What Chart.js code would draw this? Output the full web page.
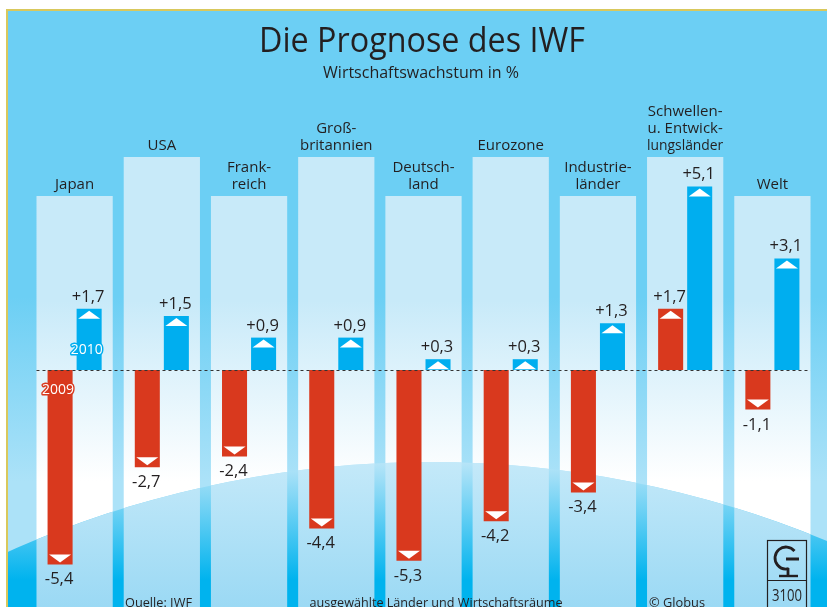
<!DOCTYPE html>
<html>
<head>
<meta charset="utf-8">
<script src="https://cdn.jsdelivr.net/npm/chart.js@4/dist/chart.umd.min.js"></script>
<style>
  html, body { margin:0; padding:0; background:#fff; }
  #chart { display:block; }
</style>
</head>
<body>
<canvas id="chart" width="827" height="607"></canvas>
<script>
// Die Prognose des IWF — Wirtschaftswachstum in %
const categories = [
  ['Japan'], ['USA'], ['Frank-', 'reich'], ['Groß-', 'britannien'], ['Deutsch-', 'land'],
  ['Eurozone'], ['Industrie-', 'länder'], ['Schwellen-', 'u. Entwick-', 'lungsländer'], ['Welt']
];
const seriesNames = ['2009', '2010'];
const growth2009 = [-5.4, -2.7, -2.4, -4.4, -5.3, -4.2, -3.4, 1.7, -1.1];
const growth2010 = [1.7, 1.5, 0.9, 0.9, 0.3, 0.3, 1.3, 5.1, 3.1];

const RED = '#d9391e';
const BLUE = '#00aeef';
const INK = '#231f20';
const FONT = '"Open Sans", "Noto Sans", sans-serif';

const fmtVal = (v) => (v > 0 ? '+' : '') + v.toFixed(1).replace('.', ',');

// panel geometry helpers (decoration only)
const panelTop = (i) => (i % 2 ? 157 : 196);
const GLOBE = { cx: 430, cy: 1498, r: 1036 };

function panels(chart, fn){
  const xs = chart.scales.x;
  const step = xs.getPixelForValue(1) - xs.getPixelForValue(0);
  const hw = step * 0.437;
  categories.forEach((_, i) => {
    const cx = xs.getPixelForValue(i);
    fn(i, cx - hw, cx + hw, cx);
  });
}

const backdrop = {
  id: 'backdrop',
  beforeDraw(chart){
    const { ctx, width, height } = chart;
    ctx.save();
    ctx.fillStyle = '#fff';
    ctx.fillRect(0, 0, width, height);

    // sky
    const sky = ctx.createLinearGradient(0, 11, 0, height);
    sky.addColorStop(0, '#6ccff4');
    sky.addColorStop(0.48, '#6ccff4');
    sky.addColorStop(0.79, '#ace2f8');
    sky.addColorStop(1, '#ace2f8');
    ctx.fillStyle = sky;
    ctx.fillRect(8, 11, width - 8, height - 11);

    // light columns
    const col = ctx.createLinearGradient(0, 157, 0, 607);
    col.addColorStop(0, '#c8eaf9');
    col.addColorStop(0.32, '#c8eaf9');
    col.addColorStop(0.72, '#ffffff');
    col.addColorStop(1, '#ffffff');
    panels(chart, (i, l, r) => {
      ctx.fillStyle = col;
      ctx.fillRect(l, panelTop(i), r - l, height - panelTop(i));
    });

    // globe
    ctx.beginPath();
    ctx.arc(GLOBE.cx, GLOBE.cy, GLOBE.r, 0, Math.PI * 2);
    ctx.clip();
    const sea = ctx.createLinearGradient(0, 462, 0, 580);
    sea.addColorStop(0, '#b8e5f8');
    sea.addColorStop(1, '#00b3ee');
    ctx.fillStyle = sea;
    ctx.fillRect(8, 440, width - 8, height - 440);
    const low = ctx.createLinearGradient(0, 462, 0, 607);
    low.addColorStop(0, '#c4e9f9');
    low.addColorStop(1, '#9bd9f4');
    panels(chart, (i, l, r) => {
      ctx.fillStyle = low;
      ctx.fillRect(l, 440, r - l, height - 440);
    });
    ctx.restore();

    // frame
    ctx.save();
    ctx.strokeStyle = '#d9c85c';
    ctx.lineWidth = 2;
    ctx.beginPath();
    ctx.moveTo(7, height);
    ctx.lineTo(7, 10);
    ctx.lineTo(width, 10);
    ctx.stroke();
    ctx.restore();
  }
};

const overlay = {
  id: 'overlay',
  afterDatasetsDraw(chart){
    const { ctx } = chart;
    const zeroY = chart.scales.y.getPixelForValue(0);
    ctx.save();

    // zero line
    let first, last;
    panels(chart, (i, l, r) => { if (i === 0) first = l; last = r; });
    ctx.strokeStyle = '#333';
    ctx.lineWidth = 1;
    ctx.setLineDash([3, 3]);
    ctx.beginPath();
    ctx.moveTo(first, Math.round(zeroY) + 0.5);
    ctx.lineTo(last, Math.round(zeroY) + 0.5);
    ctx.stroke();
    ctx.setLineDash([]);

    // triangles + values
    ctx.font = '16.5px ' + FONT;
    ctx.textAlign = 'center';
    chart.data.datasets.forEach((ds, di) => {
      chart.getDatasetMeta(di).data.forEach((bar, i) => {
        const v = ds.data[i];
        const up = v > 0;
        ctx.fillStyle = '#fff';
        ctx.beginPath();
        if (up) {
          ctx.moveTo(bar.x, bar.y + 2);
          ctx.lineTo(bar.x + 11, bar.y + 10);
          ctx.lineTo(bar.x - 11, bar.y + 10);
        } else {
          ctx.moveTo(bar.x, bar.y - 2);
          ctx.lineTo(bar.x + 11, bar.y - 10);
          ctx.lineTo(bar.x - 11, bar.y - 10);
        }
        ctx.closePath();
        ctx.fill();
        ctx.fillStyle = INK;
        ctx.fillText(fmtVal(v), bar.x - 1, up ? bar.y - 7 : bar.y + 20);
      });
    });

    // year tags in the Japan bars
    const r0 = chart.getDatasetMeta(0).data[0];
    const b0 = chart.getDatasetMeta(1).data[0];
    ctx.font = '15px ' + FONT;
    ctx.lineJoin = 'round';
    ctx.lineWidth = 3;
    ctx.textBaseline = 'middle';
    ctx.textAlign = 'right';
    ctx.strokeStyle = BLUE;
    ctx.strokeText(seriesNames[1], b0.x + b0.width / 2 + 1, zeroY - 20, 32);
    ctx.fillStyle = '#fff';
    ctx.fillText(seriesNames[1], b0.x + b0.width / 2 + 1, zeroY - 20, 32);
    ctx.textAlign = 'center';
    ctx.strokeStyle = RED;
    ctx.strokeText(seriesNames[0], r0.x - 2, zeroY + 20, 32);
    ctx.fillText(seriesNames[0], r0.x - 2, zeroY + 20, 32);
    ctx.restore();
  },
  afterDraw(chart){
    const { ctx } = chart;
    ctx.save();
    ctx.fillStyle = INK;
    ctx.textAlign = 'center';
    ctx.textBaseline = 'alphabetic';

    ctx.font = '34px ' + FONT;
    ctx.fillText('Die Prognose des IWF', 422, 52, 326);
    ctx.font = '16px ' + FONT;
    ctx.fillText('Wirtschaftswachstum in %', 421, 78, 201);

    // category labels above the columns
    ctx.font = '15px ' + FONT;
    panels(chart, (i, l, r, cx) => {
      const lines = categories[i];
      const lastY = panelTop(i) - 7;
      lines.forEach((t, k) => {
        ctx.fillText(t, cx, lastY - (lines.length - 1 - k) * 17, r - l);
      });
    });

    // footer
    ctx.font = '13.5px ' + FONT;
    ctx.textAlign = 'left';
    ctx.fillText('Quelle: IWF', 125, 607, 67);
    ctx.textAlign = 'center';
    ctx.fillText('ausgewählte Länder und Wirtschaftsräume', 436, 607, 253);
    ctx.textAlign = 'left';
    ctx.fillText('© Globus', 649, 607, 56);

    // Globus logo
    ctx.strokeStyle = INK;
    ctx.lineWidth = 1.2;
    ctx.strokeRect(767.5, 540.5, 39, 70);
    ctx.beginPath();
    ctx.moveTo(767.5, 580.5);
    ctx.lineTo(806.5, 580.5);
    ctx.stroke();
    ctx.lineWidth = 2.8;
    ctx.beginPath();
    ctx.arc(786, 558, 11, -0.22 * Math.PI, 0.42 * Math.PI, true);
    ctx.stroke();
    ctx.beginPath();
    ctx.moveTo(786, 559);
    ctx.lineTo(799, 559);
    ctx.moveTo(788, 568);
    ctx.lineTo(788, 575);
    ctx.stroke();
    ctx.lineWidth = 2.4;
    ctx.beginPath();
    ctx.moveTo(779, 576);
    ctx.lineTo(798, 576);
    ctx.stroke();
    ctx.font = '16px ' + FONT;
    ctx.textAlign = 'center';
    ctx.fillText('3100', 787, 601, 30);
    ctx.restore();
  }
};

new Chart(document.getElementById('chart'), {
  type: 'bar',
  data: {
    labels: categories,
    datasets: [
      { label: seriesNames[0], data: growth2009, backgroundColor: RED, borderWidth: 0 },
      { label: seriesNames[1], data: growth2010, backgroundColor: BLUE, borderWidth: 0 }
    ]
  },
  options: {
    responsive: false,
    animation: false,
    devicePixelRatio: 1,
    layout: { padding: { top: 172, bottom: 21, left: 31, right: 11 } },
    categoryPercentage: 0.666,
    barPercentage: 0.862,
    plugins: { legend: { display: false }, tooltip: { enabled: false } },
    scales: {
      x: { display: false, grid: { display: false } },
      y: { display: false, min: -6, max: 5.5, grid: { display: false } }
    }
  },
  plugins: [backdrop, overlay]
});
</script>
</body>
</html>
